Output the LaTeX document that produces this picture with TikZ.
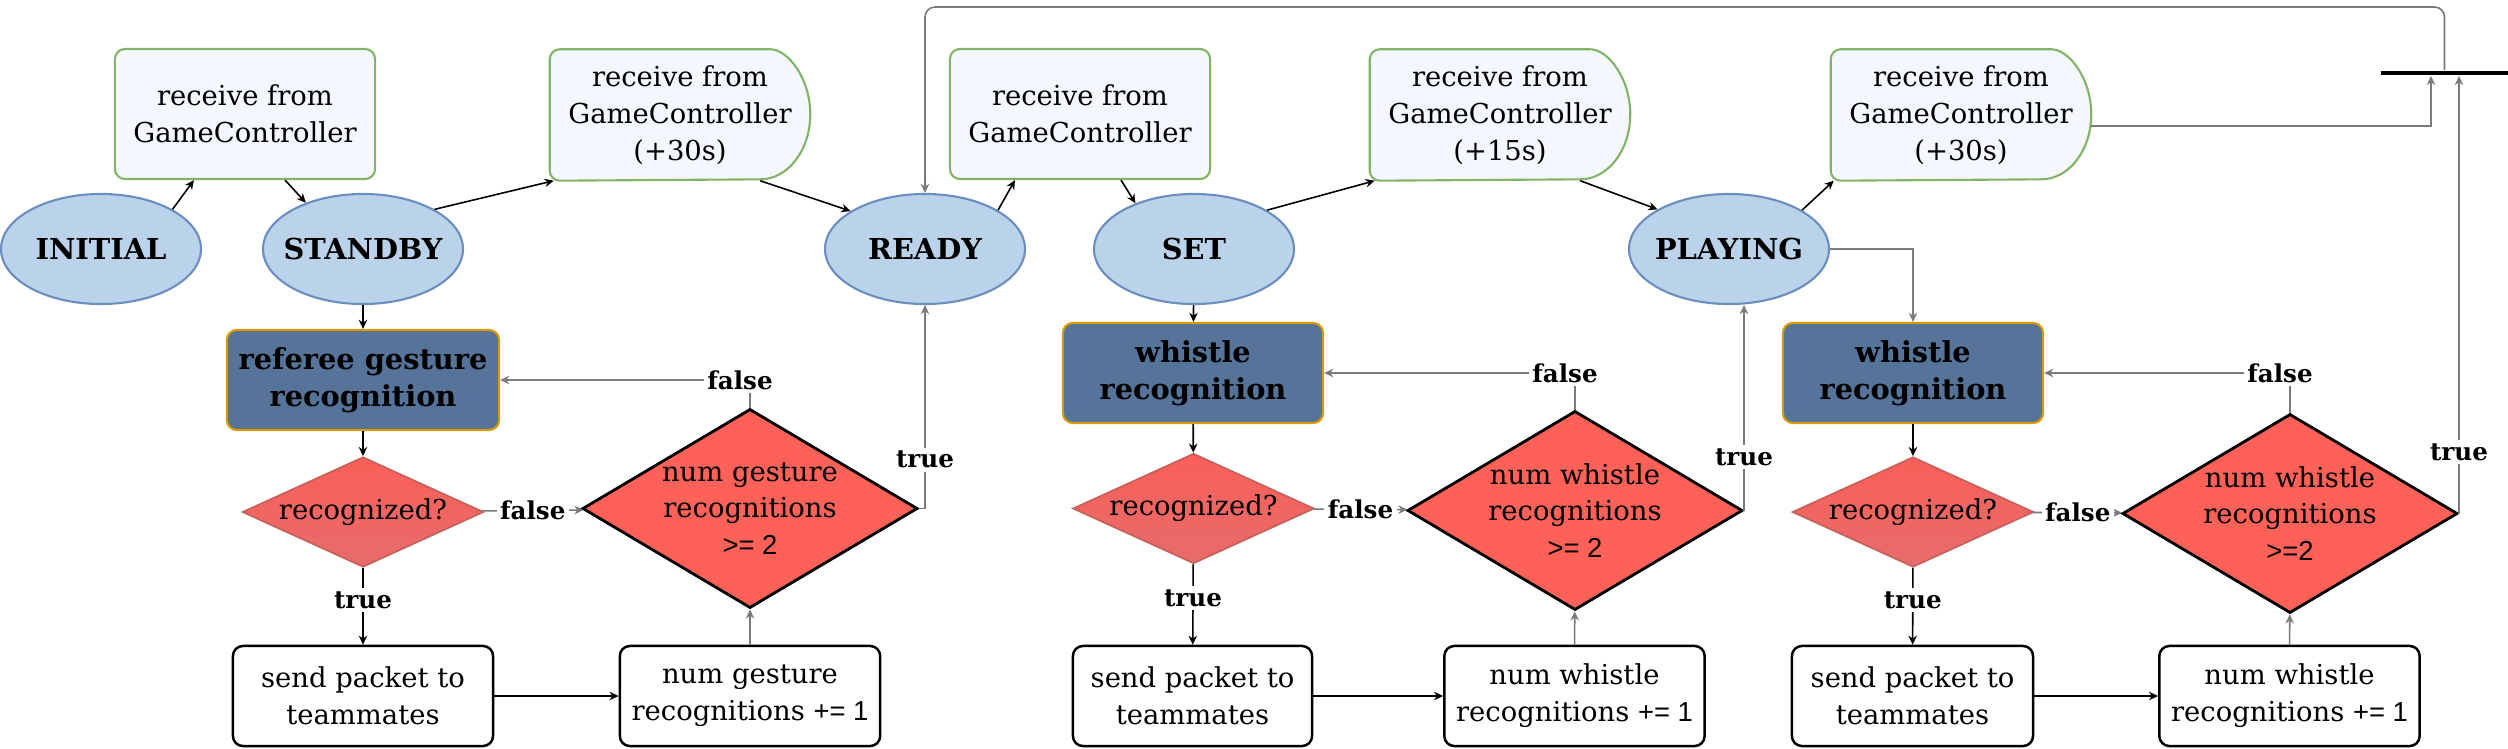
\documentclass[tikz,border=0pt]{standalone}
\usepackage{fontspec}
\setmainfont{DejaVu Serif}
\newfontfamily\numfont{Liberation Sans}
\usetikzlibrary{shapes.geometric,arrows.meta}
\pgfdeclarelayer{background}
\pgfsetlayers{background,main}

\definecolor{stateFill}{HTML}{BAD3EA}
\definecolor{stateLine}{HTML}{6C8EBF}
\definecolor{receiveFill}{HTML}{F5F7FF}
\definecolor{receiveLine}{HTML}{82B366}
\definecolor{recogFill}{HTML}{56739A}
\definecolor{recogLine}{HTML}{D79B00}
\definecolor{questionTop}{HTML}{FA5F58}
\definecolor{questionBottom}{HTML}{E66C6C}
\definecolor{questionLine}{HTML}{C8605C}
\definecolor{bigFill}{HTML}{FE6157}
\definecolor{lineGrey}{HTML}{7A7A7A}

\begin{document}
\begin{tikzpicture}[x=0.01cm,y=-0.01cm]
    \tikzset{stateText/.style = {font=\fontsize{8.2}{10}\selectfont\bfseries}}
    \tikzset{stateNode/.style = {shape=ellipse,draw=stateLine,fill=stateFill,line width=0.6pt,minimum width=2cm,minimum height=1.1cm,label={[stateText]center:#1}}}
    \tikzset{receive/.style = {shape=rectangle,rounded corners=1mm,draw=receiveLine,fill=receiveFill,line width=0.6pt,minimum width=2.6cm,minimum height=1.3cm,align=center,font=\fontsize{7.8}{10.5}\selectfont}}
    \tikzset{receiveLater/.style = {shape=rectangle,minimum width=2.59cm,minimum height=1.3cm,align=center,font=\fontsize{7.8}{10.5}\selectfont}}
    \tikzset{laterOutline/.style = {draw=receiveLine,fill=receiveFill,line width=0.6pt}}
    \tikzset{recognition/.style = {shape=rectangle,rounded corners=1mm,draw=recogLine,fill=recogFill,line width=0.6pt,minimum width=2.6cm,minimum height=1cm,align=center,font=\fontsize{8.2}{10.4}\selectfont\bfseries}}
    \tikzset{question/.style = {shape=diamond,draw=questionLine,top color=questionTop,bottom color=questionBottom,line width=0.5pt,minimum width=2.41cm,minimum height=1.1cm,aspect=2.2,inner sep=0pt,font=\fontsize{7.8}{10}\selectfont}}
    \tikzset{bigQuestion/.style = {shape=diamond,draw=black,fill=bigFill,line width=0.8pt,minimum width=3.35cm,minimum height=1.99cm,label={[align=center,font=\fontsize{7.8}{10.4}\selectfont]center:#1}}}
    \tikzset{action/.style = {shape=rectangle,rounded corners=1mm,draw=black,fill=white,line width=0.7pt,minimum height=1cm,align=center,font=\fontsize{7.8}{10.5}\selectfont}}
    \tikzset{arrowBlack/.style = {-{Stealth[length=2.6pt,width=2.4pt]},line width=0.45pt}}
    \tikzset{arrowGrey/.style = {arrowBlack,draw=lineGrey}}
    \tikzset{edgeLabel/.style = {fill=white,inner sep=1pt,font=\fontsize{7}{8}\selectfont\bfseries}}

    \useasboundingbox (0,0) rectangle (2508,748);

    \node[stateNode=INITIAL] (initial) at (101,249) {};
    \node[stateNode=STANDBY] (standby) at (363,249) {};
    \node[stateNode=READY] (ready) at (925,249) {};
    \node[stateNode=SET] (set) at (1194,249) {};
    \node[stateNode=PLAYING] (playing) at (1729,249) {};

    \node[receive] (receive1) at (245,114) {receive from\\GameController};
    \node[receiveLater] (receive2) at (680,115) {receive from\\GameController\\(+30s)};
    \node[receive] (receive3) at (1080,114) {receive from\\GameController};
    \node[receiveLater] (receive4) at (1500,115) {receive from\\GameController\\(+15s)};
    \node[receiveLater] (receive5) at (1961,115) {receive from\\GameController\\(+30s)};

    \begin{pgfonlayer}{background}
        \filldraw[laterOutline] ([xshift=-0.5cm]receive2.north east) arc[start angle=90,end angle=-90,x radius=0.5cm,y radius=0.65cm] [rounded corners=1mm] -- (receive2.south west) -- (receive2.north west) -- cycle;
        \filldraw[laterOutline] ([xshift=-0.5cm]receive4.north east) arc[start angle=90,end angle=-90,x radius=0.5cm,y radius=0.65cm] [rounded corners=1mm] -- (receive4.south west) -- (receive4.north west) -- cycle;
        \filldraw[laterOutline] ([xshift=-0.5cm]receive5.north east) arc[start angle=90,end angle=-90,x radius=0.5cm,y radius=0.65cm] [rounded corners=1mm] -- (receive5.south west) -- (receive5.north west) -- cycle;
    \end{pgfonlayer}

    \node[recognition] (gesture) at (363,380) {referee gesture\\recognition};
    \node[recognition] (whistle1) at (1193,373) {whistle\\recognition};
    \node[recognition] (whistle2) at (1913,373) {whistle\\recognition};

    \node[question] (recognized1) at (363,512) {recognized?};
    \node[question] (recognized2) at (1193.5,508.5) {recognized?};
    \node[question] (recognized3) at (1913,512) {recognized?};

    \node[bigQuestion={num gesture\\recognitions\\{\numfont >= 2}}] (count1) at (750,508.5) {};
    \node[bigQuestion={num whistle\\recognitions\\{\numfont >= 2}}] (count2) at (1575,510.5) {};
    \node[bigQuestion={num whistle\\recognitions\\{\numfont >=2}}] (count3) at (2290,513.5) {};

    \node[action,minimum width=2.6cm] (send1) at (363,696) {send packet to\\teammates};
    \node[action,minimum width=2.6cm] (increment1) at (750,696) {num gesture\\recognitions {\numfont += 1}};
    \node[action,minimum width=2.39cm] (send2) at (1192.5,696) {send packet to\\teammates};
    \node[action,minimum width=2.59cm] (increment2) at (1574.5,696) {num whistle\\recognitions {\numfont += 1}};
    \node[action,minimum width=2.41cm] (send3) at (1912.5,696) {send packet to\\teammates};
    \node[action,minimum width=2.59cm] (increment3) at (2289.5,696) {num whistle\\recognitions {\numfont += 1}};

    \node[fill=black,inner sep=0pt,minimum width=1.27cm,minimum height=0.045cm] (bar) at (2444.5,73) {};
    \coordinate (topLine) at (0,7);

    \draw [arrowBlack] (initial.29) -- ([xshift=-0.51cm]receive1.south);
    \draw [arrowBlack] ([xshift=0.4cm]receive1.south) -- (standby.141);
    \draw [arrowBlack] (standby.29) -- ([xshift=0.04cm]receive2.south west);
    \draw [arrowBlack] ([xshift=-0.5cm]receive2.south east) -- (ready.153);
    \draw [arrowBlack] (ready.28) -- ([xshift=-0.65cm]receive3.south);
    \draw [arrowBlack] ([xshift=0.41cm]receive3.south) -- (set.142);
    \draw [arrowBlack] (set.28) -- ([xshift=0.05cm]receive4.south west);
    \draw [arrowBlack] ([xshift=-0.5cm]receive4.south east) -- (playing.151);
    \draw [arrowBlack] (playing.28) -- ([xshift=0.03cm]receive5.south west);

    \draw [arrowBlack] (standby) -- (gesture);
    \draw [arrowBlack] (set) -- (whistle1);
    \draw [arrowGrey] (playing.east) -| (whistle2.north);

    \draw [arrowBlack] (gesture) -- (recognized1);
    \draw [arrowBlack] (recognized1) -- node[edgeLabel,pos=0.42] {true} (send1);
    \draw [arrowGrey] (recognized1) -- node[edgeLabel] {false} (count1);
    \draw [arrowBlack] (send1) -- (increment1);
    \draw [arrowGrey] (increment1) -- (count1);
    \draw [arrowGrey] (count1.north) |- node[edgeLabel,xshift=-0.1cm] {false} (gesture.east);
    \draw [arrowGrey] (count1.east) -| node[edgeLabel,pos=0.62] {true} (ready.south);

    \draw [arrowBlack] (whistle1) -- (recognized2);
    \draw [arrowBlack] (recognized2) -- node[edgeLabel,pos=0.42] {true} (send2);
    \draw [arrowGrey] (recognized2) -- node[edgeLabel] {false} (count2);
    \draw [arrowBlack] (send2) -- (increment2);
    \draw [arrowGrey] (increment2) -- (count2);
    \draw [arrowGrey] (count2.north) |- node[edgeLabel,xshift=-0.1cm] {false} (whistle1.east);
    \draw [arrowGrey] (count2.east) -- node[edgeLabel,pos=0.26] {true} (count2.east |- playing.south);

    \draw [arrowBlack] (whistle2) -- (recognized3);
    \draw [arrowBlack] (recognized3) -- node[edgeLabel,pos=0.42] {true} (send3);
    \draw [arrowGrey] (recognized3) -- node[edgeLabel] {false} (count3);
    \draw [arrowBlack] (send3) -- (increment3);
    \draw [arrowGrey] (increment3) -- (count3);
    \draw [arrowGrey] (count3.north) |- node[edgeLabel,xshift=-0.1cm] {false} (whistle2.east);
    \draw [arrowGrey] (count3.east) -- node[edgeLabel,pos=0.14] {true} (count3.east |- bar.south);

    \draw [arrowGrey] ([yshift=-0.11cm]receive5.east) -| ([xshift=-0.135cm]bar.south);
    \draw [arrowGrey,rounded corners=1mm] (bar.north) |- (topLine -| ready.north) -- (ready.north);
\end{tikzpicture}
\end{document}
